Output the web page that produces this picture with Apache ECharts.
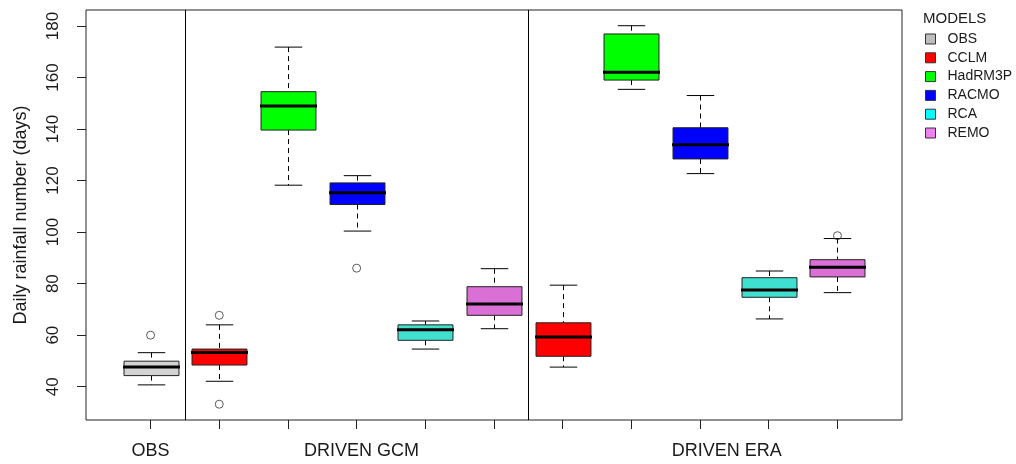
<!DOCTYPE html>
<html>
<head>
<meta charset="utf-8">
<script src="https://cdn.jsdelivr.net/npm/echarts@6/dist/echarts.min.js"></script>
<style>
html,body{margin:0;padding:0;background:#fff;}
#chart{width:1016px;height:464px;}
</style>
</head>
<body>
<div id="chart"></div>
<script>
// ---- data ----
const groupLabels = ['OBS', 'DRIVEN GCM', 'DRIVEN ERA'];
const groupLabelAt = [1, 4.07, 9.39];
const boxSlots = [1, 2, 3, 4, 5, 6, 7, 8, 9, 10, 11];
const groupDividers = [1.5, 6.5];
const yTicks = [40, 60, 80, 100, 120, 140, 160, 180];
const models = ['OBS', 'CCLM', 'HadRM3P', 'RACMO', 'RCA', 'REMO'];

// five-number stats: [slot, lowerWhisker, q1, median, q3, upperWhisker]
const obsStats     = [[1, 40.7, 44.3, 47.6, 49.9, 53.2]];
const cclmStats    = [[2, 42.1, 48.4, 53.3, 54.6, 64.0], [7, 47.6, 51.8, 59.3, 64.8, 79.4]];
const hadrm3pStats = [[3, 118.2, 139.6, 148.9, 154.5, 171.8], [8, 155.4, 159.0, 162.0, 176.9, 180.1]];
const racmoStats   = [[4, 100.4, 110.7, 115.3, 119.1, 121.9], [9, 122.7, 128.4, 133.9, 140.5, 153.0]];
const rcaStats     = [[5, 54.6, 58.0, 62.1, 64.0, 65.5], [10, 66.3, 74.7, 77.5, 82.3, 84.9]];
const remoStats    = [[6, 62.5, 67.7, 72.1, 78.8, 85.8], [11, 76.5, 82.6, 86.4, 89.3, 97.5]];
const outliers     = [[1, 60.0], [2, 67.7], [2, 33.2], [4, 86.0], [11, 98.6]];

// ---- styles ----
const boxColors    = ['#d3d3d3', '#ff0000', '#00ff00', '#0000ff', '#40e0d0', '#da70d6'];
const legendColors = ['#bebebe', '#ff0000', '#00ff00', '#0000ff', '#00ffff', '#ee82ee'];
const statsByModel = [obsStats, cclmStats, hadrm3pStats, racmoStats, rcaStats, remoStats];
const BOX_W = 0.8, CAP_W = 0.4;
const FONT = '"Liberation Sans", Arial, sans-serif';

function renderBox(params, api) {
  const x = api.value(0);
  const lo = api.coord([x, api.value(1)]);
  const q1 = api.coord([x, api.value(2)]);
  const md = api.coord([x, api.value(3)]);
  const q3 = api.coord([x, api.value(4)]);
  const hi = api.coord([x, api.value(5)]);
  const bw = api.size([BOX_W, 0])[0];
  const cw = api.size([CAP_W, 0])[0];
  const cx = Math.round(lo[0]) + 0.5;
  const dash = {stroke: '#000', lineWidth: 1, lineDash: [5, 4]};
  const solid = {stroke: '#000', lineWidth: 1};
  return {
    type: 'group',
    children: [
      {type: 'line', shape: {x1: cx, y1: hi[1], x2: cx, y2: q3[1]}, style: dash},
      {type: 'line', shape: {x1: cx, y1: q1[1], x2: cx, y2: lo[1]}, style: dash},
      {type: 'line', shape: {x1: cx - cw / 2, y1: hi[1], x2: cx + cw / 2, y2: hi[1]}, style: solid},
      {type: 'line', shape: {x1: cx - cw / 2, y1: lo[1], x2: cx + cw / 2, y2: lo[1]}, style: solid},
      {type: 'rect', shape: {x: cx - bw / 2, y: q3[1], width: bw, height: q1[1] - q3[1]},
        style: {fill: api.visual('color'), stroke: '#222', lineWidth: 1}},
      {type: 'line', shape: {x1: cx - bw / 2 - 1, y1: md[1], x2: cx + bw / 2 + 1, y2: md[1]},
        style: {stroke: '#000', lineWidth: 3}}
    ]
  };
}

const series = models.map((m, i) => ({
  name: m,
  type: 'custom',
  renderItem: renderBox,
  itemStyle: {color: boxColors[i]},
  encode: {x: 0, y: [1, 2, 3, 4, 5]},
  data: statsByModel[i],
  z: 3
}));

series.push({
  name: 'outliers',
  type: 'scatter',
  symbol: 'circle',
  symbolSize: 8,
  itemStyle: {color: 'rgba(255,255,255,0)', borderColor: '#333', borderWidth: 1},
  data: outliers,
  z: 4,
  markLine: {
    silent: true,
    symbol: 'none',
    label: {show: false},
    lineStyle: {color: '#000', width: 1, type: 'solid'},
    data: groupDividers.map(v => ({xAxis: v}))
  }
});

function groupLabelFor(v) {
  let best = 0;
  for (let i = 1; i < groupLabelAt.length; i++) {
    if (Math.abs(groupLabelAt[i] - v) < Math.abs(groupLabelAt[best] - v)) best = i;
  }
  return groupLabels[best];
}

const chart = echarts.init(document.getElementById('chart'), null, {renderer: 'canvas'});
chart.setOption({
  animation: false,
  backgroundColor: '#fff',
  title: {
    text: 'MODELS', left: 918, top: 6,
    textStyle: {fontFamily: FONT, fontSize: 15, fontWeight: 'normal', color: '#1a1a1a'}
  },
  legend: {
    orient: 'vertical', left: 920, top: 27,
    itemWidth: 10, itemHeight: 10, itemGap: 4.8,
    icon: 'rect', selectedMode: false,
    textStyle: {fontFamily: FONT, fontSize: 14, lineHeight: 14, color: '#1a1a1a', padding: [0, 0, 0, 7]},
    data: models.map((m, i) => ({name: m, itemStyle: {color: legendColors[i], borderColor: '#333', borderWidth: 1}}))
  },
  grid: {
    left: 86, top: 10, right: 114, bottom: 44,
    show: true, borderColor: '#222', borderWidth: 1, backgroundColor: 'transparent'
  },
  xAxis: {
    type: 'value', min: 0.06, max: 11.94,
    axisLine: {show: false},
    splitLine: {show: false},
    axisTick: {show: true, length: 9, lineStyle: {color: '#222'}, customValues: boxSlots},
    axisLabel: {
      show: true,
      customValues: groupLabelAt, margin: 22,
      showMinLabel: true, showMaxLabel: true,
      fontFamily: FONT, fontSize: 18, color: '#1a1a1a',
      formatter: (v) => groupLabelFor(v)
    }
  },
  yAxis: {
    type: 'value', min: 27.07, max: 186.2,
    name: 'Daily rainfall number (days)', nameLocation: 'middle', nameGap: 56,
    nameRotate: 90,
    nameTextStyle: {fontFamily: FONT, fontSize: 18, color: '#1a1a1a'},
    axisLine: {show: false},
    splitLine: {show: false},
    axisTick: {show: true, length: 9, lineStyle: {color: '#222'}, customValues: yTicks},
    axisLabel: {
      customValues: yTicks, rotate: 90, margin: 24,
      fontFamily: FONT, fontSize: 17, color: '#1a1a1a'
    }
  },
  series: series
});
</script>
</body>
</html>
